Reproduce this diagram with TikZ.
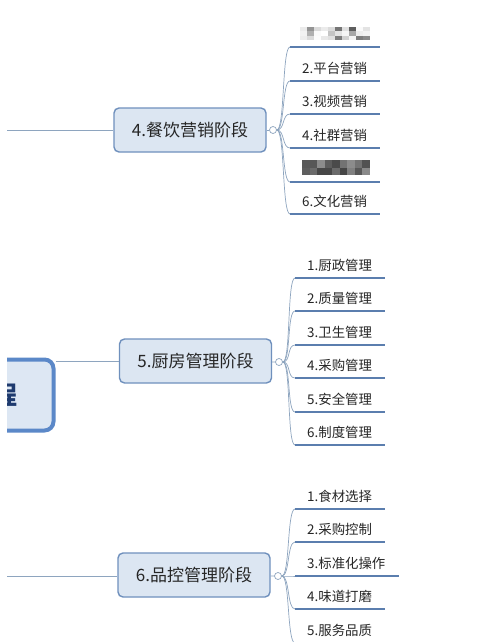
\documentclass[tikz,border=0pt]{standalone}
\usepackage{fontspec}
\setmainfont{Noto Sans CJK SC}
\usetikzlibrary{positioning,calc}
\definecolor{boxfill}{HTML}{DCE6F2}
\definecolor{boxline}{HTML}{6F90BD}
\definecolor{hubfill}{HTML}{DDE7F3}
\definecolor{hubline}{HTML}{5B88C8}
\definecolor{uline}{HTML}{5B7EAE}
\definecolor{twig}{HTML}{8EA5BF}
\definecolor{ink}{HTML}{262626}
\definecolor{hubink}{HTML}{1E3A6E}

\begin{document}
\begin{tikzpicture}[x=1pt, y=-1pt,
    stage/.style={rectangle, rounded corners=5pt, draw=boxline, line width=1.4pt,
                fill=boxfill, minimum width=152pt, minimum height=44pt,
                font=\fontsize{17}{20}\selectfont, text=ink},
    leaf/.style={anchor=south west, inner xsep=12pt, inner ysep=6.5pt,
                text width=66pt, align=left,
                font=\fontsize{13.4}{15}\selectfont, text=ink},
    knob/.style={circle, draw=twig, fill=white, line width=0.7pt,
                minimum size=7pt, inner sep=0pt},
    twigline/.style={draw=twig, line width=0.7pt},
    underline/.style={draw=uline, line width=2.6pt},
]
\fill[white] (0,0) rectangle (500,642);
\useasboundingbox (0,0) rectangle (500,642);
\clip (7,0) rectangle (500,642);

% hub on the left edge
\node[rectangle, rounded corners=9pt, draw=hubline, line width=4pt, fill=hubfill,
      minimum width=150pt, minimum height=71pt] (hub) at (-21.5,395) {};
\node[anchor=east, inner sep=0pt, text=hubink,
      font=\bfseries\fontsize{25}{25}\selectfont] (title) at (18,395) {程};

% stage 4
\coordinate (in4) at (7,130);
\node[stage] (mkt) at (190,130) {4.餐饮营销阶段};
\node[knob] (mktc) at (273,130) {};
\draw[twigline] (in4) -- (mkt);
\draw[twigline] (mkt) -- (mktc);

\node[leaf] (m1) at (290,47) {};
\node[leaf] (m2) at (290,81) {2.平台营销};
\node[leaf] (m3) at (290,114) {3.视频营销};
\node[leaf] (m4) at (290,148) {4.社群营销};
\node[leaf] (m5) at (290,182) {};
\node[leaf] (m6) at (290,214) {6.文化营销};

% blurred labels
\pgfmathsetseed{7}
\begin{scope}[shift={(m1.south west)}]
  \foreach \i in {0,...,9}
    \foreach \j in {0,1,2} {
      \pgfmathsetmacro\g{int(70*rnd*rnd)}
      \fill[black!\g] (10+7*\i,-20+4.4*\j) rectangle +(7,4.4);
    }
\end{scope}
\begin{scope}[shift={(m5.south west)}]
  \foreach \i in {0,...,8}
    \foreach \j in {0,1} {
      \pgfmathsetmacro\g{int(45+30*rnd)}
      \fill[black!\g] (12+7.5*\i,-22+7.5*\j) rectangle +(7.5,7.5);
    }
\end{scope}

\foreach \n in {m1,m2,m3,m4,m5,m6} {
  \draw[twigline] (mktc.east) .. controls +(8,0) and +(-8,0) .. (\n.south west);
  \draw[underline] (\n.south west) -- (\n.south east);
}

% stage 5
\node[stage] (kit) at (195.5,361) {5.厨房管理阶段};
\node[knob] (kitc) at (279,362) {};
\draw[twigline] (hub.east |- kit) -- (kit);
\draw[twigline] (kit) -- (kitc);

\node[leaf] (k1) at (295,278) {1.厨政管理};
\node[leaf] (k2) at (295,311) {2.质量管理};
\node[leaf] (k3) at (295,345) {3.卫生管理};
\node[leaf] (k4) at (295,378) {4.采购管理};
\node[leaf] (k5) at (295,412) {5.安全管理};
\node[leaf] (k6) at (295,445) {6.制度管理};

\foreach \n in {k1,k2,k3,k4,k5,k6} {
  \draw[twigline] (kitc.east) .. controls +(8,0) and +(-8,0) .. (\n.south west);
  \draw[underline] (\n.south west) -- (\n.south east);
}

% stage 6
\coordinate (in6) at (7,576);
\node[stage] (qc) at (194,575) {6.品控管理阶段};
\node[knob] (qcc) at (278,576) {};
\draw[twigline] (in6) -- (in6 -| qc.west);
\draw[twigline] (qc) -- (qcc);

\node[leaf] (q1) at (295,509) {1.食材选择};
\node[leaf] (q2) at (295,542) {2.采购控制};
\node[leaf, text width=80pt] (q3) at (295,576) {3.标准化操作};
\node[leaf] (q4) at (295,609) {4.味道打磨};
\node[leaf] (q5) at (295,643) {5.服务品质};

\foreach \n in {q1,q2,q3,q4,q5} {
  \draw[twigline] (qcc.east) .. controls +(8,0) and +(-8,0) .. (\n.south west);
  \draw[underline] (\n.south west) -- (\n.south east);
}
\end{tikzpicture}
\end{document}
